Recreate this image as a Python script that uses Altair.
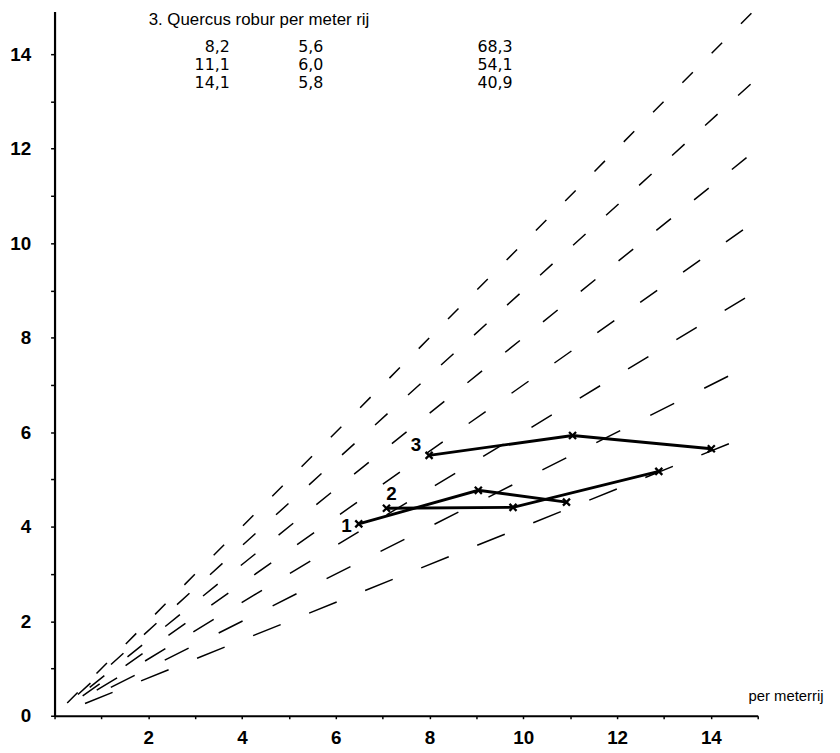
import altair as alt
import pandas as pd

# ratio lines (hoogte / breedte verhouding), drawn dashed from near the origin
ray_ratio = [1.0, 0.9, 0.8, 0.7, 0.6, 0.5, 0.4]
ray_start_x = [0.27, 0.50, 0.75, 0.60, 0.90, 1.20, 0.65]
ray_end_x = [14.9, 14.95, 14.95, 14.95, 14.95, 14.95, 14.95]
ray_dash = [[15, 27], [17, 28], [19, 30], [21, 32], [24, 33], [27, 34], [30, 31]]

series_names = ["1", "2", "3"]
s1_x = [6.49, 9.04, 10.92]
s1_y = [4.06, 4.77, 4.52]
s2_x = [7.08, 9.78, 12.89]
s2_y = [4.39, 4.41, 5.17]
s3_x = [7.99, 11.05, 14.01]
s3_y = [5.51, 5.93, 5.65]

# series number labels
lab_text = ["1", "2", "3"]
lab_x = [6.23, 7.19, 7.71]
lab_y = [4.02, 4.69, 5.72]

# table in the upper left
table_title = "3. Quercus robur per meter rij"
table_col1 = [8.2, 11.1, 14.1]
table_col2 = [5.6, 6.0, 5.8]
table_col3 = [68.3, 54.1, 40.9]

axis_title = "per meterrij"
x_ticks = list(range(0, 16))
y_ticks = list(range(0, 15))

FONT = "Liberation Sans"
NUMFONT = "DejaVu Sans"


def nl(v):
    return f"{v:.1f}".replace(".", ",")


rays = []
for r, x0, x1 in zip(ray_ratio, ray_start_x, ray_end_x):
    x1 = min(x1, 14.9 / r)
    rays.append({"ratio": str(r), "x": x0, "y": r * x0, "o": 0})
    rays.append({"ratio": str(r), "x": x1, "y": r * x1, "o": 1})
rays_df = pd.DataFrame(rays)

pts = []
for name, xs_, ys_ in zip(series_names, [s1_x, s2_x, s3_x], [s1_y, s2_y, s3_y]):
    for i, (xv, yv) in enumerate(zip(xs_, ys_)):
        pts.append({"serie": name, "x": xv, "y": yv, "o": i})
pts_df = pd.DataFrame(pts)

lab_df = pd.DataFrame({"t": lab_text, "x": lab_x, "y": lab_y})

xs = alt.Scale(domain=[0, 15], nice=False)
ys = alt.Scale(domain=[0, 14.9], nice=False)

x_axis = alt.Axis(
    values=x_ticks,
    labelExpr="datum.value % 2 == 0 && datum.value > 0 ? datum.label : ''",
    grid=False, tickSize=3, tickWidth=1.5, tickColor="black",
    domainColor="black", domainWidth=2.2,
    labelFont=FONT, labelFontSize=19, labelFontWeight="bold", labelColor="black",
    labelPadding=10,
    title=axis_title, titleFont=FONT, titleFontSize=15, titleFontWeight="normal",
    titleColor="black", titleX=776, titleY=-20, titleAlign="right",
    titleBaseline="middle",
)
y_axis = alt.Axis(
    values=y_ticks,
    labelExpr="datum.value % 2 == 0 ? datum.label : ''",
    grid=False, tickSize=4, tickWidth=1.5, tickColor="black",
    domainColor="black", domainWidth=2.2,
    labelFont=FONT, labelFontSize=19, labelFontWeight="bold", labelColor="black",
    labelPadding=20, title=None,
)

ray_layer = alt.Chart(rays_df).mark_line(color="black", strokeWidth=1.5).encode(
    x=alt.X("x:Q", scale=xs, axis=x_axis),
    y=alt.Y("y:Q", scale=ys, axis=y_axis),
    detail="ratio:N",
    order="o:Q",
    strokeDash=alt.StrokeDash(
        "ratio:N",
        scale=alt.Scale(domain=[str(r) for r in ray_ratio], range=ray_dash),
        legend=None,
    ),
)

line_layer = alt.Chart(pts_df).mark_line(color="black", strokeWidth=2.9).encode(
    x=alt.X("x:Q", scale=xs),
    y=alt.Y("y:Q", scale=ys),
    detail="serie:N",
    order="o:Q",
)

mark_layer = alt.Chart(pts_df).mark_point(
    shape="M-1,-1L1,1M-1,1L1,-1", size=50, filled=False,
    color="black", strokeWidth=2.3, opacity=1,
).encode(x=alt.X("x:Q", scale=xs), y=alt.Y("y:Q", scale=ys))

lab_layer = alt.Chart(lab_df).mark_text(
    font=FONT, fontSize=19, fontWeight="bold", color="black",
    align="center", baseline="middle",
).encode(x=alt.X("x:Q", scale=xs), y=alt.Y("y:Q", scale=ys), text="t:N")

one = pd.DataFrame({"t": [table_title]})
title_layer = alt.Chart(one).mark_text(
    font=FONT, fontSize=17, color="black", align="left", baseline="middle",
).encode(x=alt.value(95), y=alt.value(9), text="t:N")

col_specs = [
    (table_col1, 177, "right"),
    (table_col2, 246, "left"),
    (table_col3, 427, "left"),
]
cell_layers = []
for vals, px, al in col_specs:
    for i, v in enumerate(vals):
        d = pd.DataFrame({"t": [nl(v)]})
        cell_layers.append(
            alt.Chart(d).mark_text(
                font=NUMFONT, fontSize=16, color="black", align=al,
                baseline="middle",
            ).encode(x=alt.value(px), y=alt.value(36 + 18 * i), text="t:N")
        )

chart = alt.layer(
    ray_layer, line_layer, mark_layer, lab_layer, title_layer, *cell_layers
).properties(
    width=710, height=711,
    autosize=alt.AutoSizeParams(type="none"),
    padding={"left": 47, "top": 0, "right": 75, "bottom": 34},
    background="white",
).configure_view(stroke=None)

chart.save("out.html", embed_options={"renderer": "svg", "actions": False})
